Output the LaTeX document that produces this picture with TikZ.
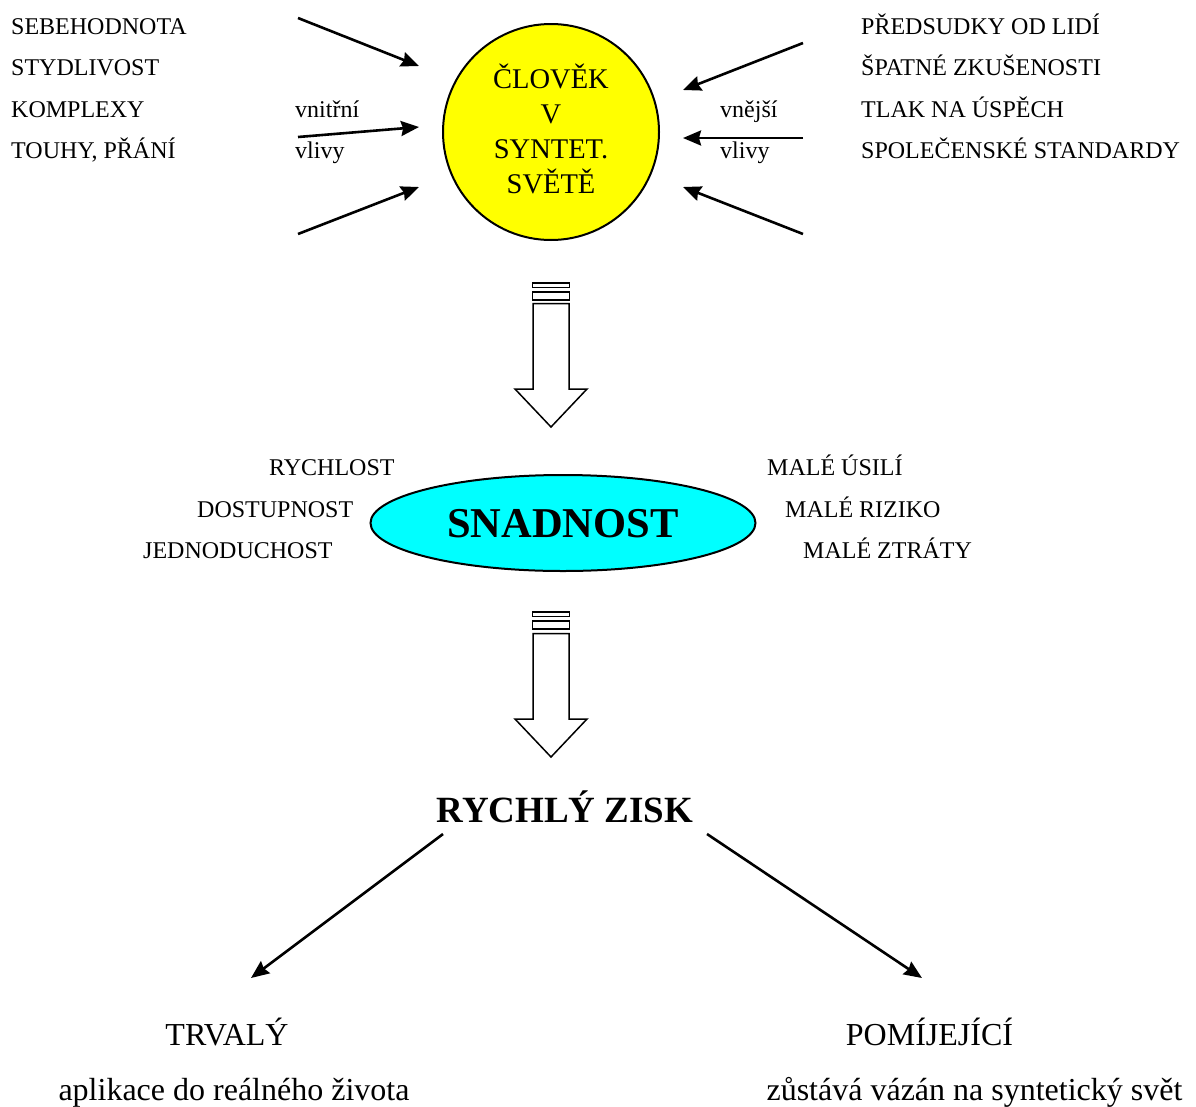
\documentclass[tikz,border=0pt]{standalone}
\usepackage{fontspec}
\setmainfont{Liberation Serif}
\usetikzlibrary{arrows.meta,shapes.geometric}
\definecolor{yel}{RGB}{255,255,0}
\definecolor{cya}{RGB}{0,255,255}
\tikzset{
  lbl/.style={inner sep=0pt, anchor=base west, font=\fontsize{24}{26}\selectfont},
  big/.style={inner sep=0pt, anchor=base, font=\fontsize{32}{36}\selectfont},
  arr/.style={line width=2.6pt, -{Stealth[length=18pt,width=15pt,inset=2pt]}},
  blockarrow/.style={draw, line width=1.5pt, fill=white, line join=miter},
}
\begin{document}
\begin{tikzpicture}[x=1pt,y=-1pt]
\useasboundingbox (0,0) rectangle (1196,1106);

% central circle
\node[circle, draw, line width=2pt, fill=yel, minimum size=216pt, inner sep=0pt] (man) at (551,132) {};
\node[inner sep=0pt, align=center, font=\fontsize{28.5}{35}\selectfont, anchor=base] (mantxt) at (551,193)
  {ČLOVĚK\\V\\SYNTET.\\SVĚTĚ};

% left texts
\node[lbl] (l1) at (11,34) {SEBEHODNOTA};
\node[lbl] (l2) at (11,75) {STYDLIVOST};
\node[lbl] (l3) at (11,117) {KOMPLEXY};
\node[lbl] (l4) at (11,158) {TOUHY, PŘÁNÍ};
\node[lbl] (vn) at (295,117) {vnitřní};
\node[lbl] (vl) at (295,158) {vlivy};

% right texts
\node[lbl] (r1) at (861,34) {PŘEDSUDKY OD LIDÍ};
\node[lbl] (r2) at (861,75) {ŠPATNÉ ZKUŠENOSTI};
\node[lbl] (r3) at (861,117) {TLAK NA ÚSPĚCH};
\node[lbl] (r4) at (861,158) {SPOLEČENSKÉ STANDARDY};
\node[lbl] (ve) at (720,117) {vnější};
\node[lbl] (vr) at (720,158) {vlivy};

% arrow coordinates
\coordinate (la1) at (298,18);  \coordinate (lt1) at (419,66);
\coordinate (la2) at (298,137); \coordinate (lt2) at (419,127);
\coordinate (la3) at (298,234); \coordinate (lt3) at (419,187);
\coordinate (ra1) at (803,43);  \coordinate (rt1) at (683,90);
\coordinate (ra2) at (803,138); \coordinate (rt2) at (683,138);
\coordinate (ra3) at (803,234); \coordinate (rt3) at (683,187);
\draw[arr] (la1) -- (lt1);
\draw[arr] (la2) -- (lt2);
\draw[arr] (la3) -- (lt3);
\draw[arr] (ra1) -- (rt1);
\draw[arr] (ra2) -- (rt2);
\draw[arr] (ra3) -- (rt3);

% block arrow 1
\draw[blockarrow] (532.5,283) rectangle (569.5,287.5);
\draw[blockarrow] (532.5,292) rectangle (569.5,300);
\draw[blockarrow] (533,303.5) -- (569,303.5) -- (569,389) -- (587,389) -- (551,427) -- (515,389) -- (533,389) -- cycle;

% ellipse
\node[ellipse, draw, line width=2pt, fill=cya, minimum width=385pt, minimum height=96pt, inner sep=0pt] (easy) at (563,523) {};
\node[inner sep=0pt, font=\fontsize{42.5}{46}\bfseries\selectfont] (easytxt) at (563,524) {SNADNOST};

% middle labels
\node[lbl] (m1) at (269,475) {RYCHLOST};
\node[lbl] (m2) at (197,517) {DOSTUPNOST};
\node[lbl] (m3) at (143,558) {JEDNODUCHOST};
\node[lbl] (n1) at (767,475) {MALÉ ÚSILÍ};
\node[lbl] (n2) at (785,517) {MALÉ RIZIKO};
\node[lbl] (n3) at (803,558) {MALÉ ZTRÁTY};

% block arrow 2
\draw[blockarrow] (532.5,612) rectangle (569.5,616.5);
\draw[blockarrow] (532.5,621) rectangle (569.5,629);
\draw[blockarrow] (533,633.5) -- (569,633.5) -- (569,719) -- (587,719) -- (551,757) -- (515,719) -- (533,719) -- cycle;

% gain
\node[inner sep=0pt, anchor=base, font=\fontsize{37}{40}\bfseries\selectfont] (gain) at (565,822) {RYCHLÝ ZISK};
\coordinate (ga) at (443,834); \coordinate (gt1) at (251,978);
\coordinate (gb) at (707,834); \coordinate (gt2) at (922,978);
\draw[arr] (ga) -- (gt1);
\draw[arr] (gb) -- (gt2);

% outcomes
\node[big] (perm) at (227,1045) {TRVALÝ};
\node[big] (permd) at (234,1100) {aplikace do reálného života};
\node[big] (temp) at (929.5,1045) {POMÍJEJÍCÍ};
\node[big] (tempd) at (974.5,1100) {zůstává vázán na syntetický svět};
\end{tikzpicture}
\end{document}
